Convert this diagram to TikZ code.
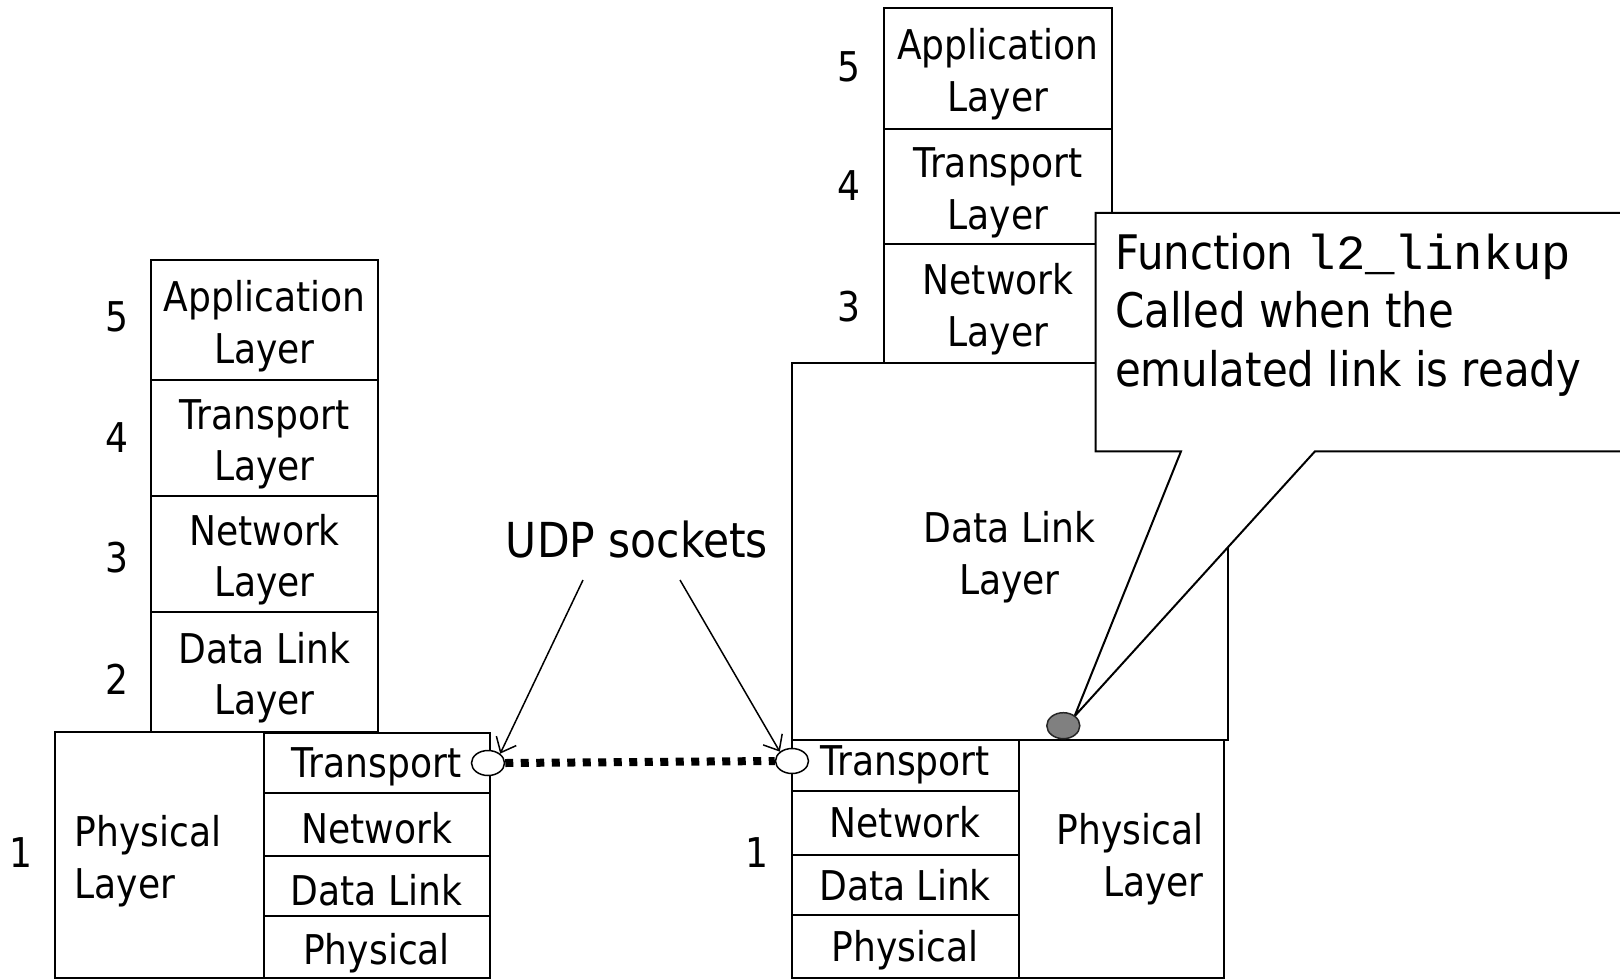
\documentclass[tikz,border=0pt]{standalone}
\usepackage{fontspec}
\setmainfont{DejaVu Sans}[FakeStretch=0.88]
\newfontfamily\codefont{Liberation Mono}
\usetikzlibrary{shapes.geometric,arrows.meta}
\newcommand\stackfont{\fontsize{41}{51.6}\selectfont}
\newcommand\callfont{\fontsize{47.6}{58.5}\selectfont}
\newcommand\tstrut{\rule{0pt}{1.04em}}
\newcommand\sstrut{\rule{0pt}{0.95em}}
\begin{document}
\begin{tikzpicture}[x=1pt,y=-1pt,
  box/.style={draw, line width=2pt, fill=white, inner sep=0pt, align=center, font=\stackfont},
  num/.style={inner sep=0pt, font=\stackfont},
  sock/.style={draw, ellipse, line width=1.5pt, fill=white, minimum width=33pt, minimum height=25pt, inner sep=0pt},
  gdot/.style={draw=black!85, ellipse, line width=1.5pt, fill=gray, minimum width=33pt, minimum height=26pt, inner sep=0pt},
  arr/.style={line width=1.5pt, -{Straight Barb[length=13pt,width=22pt]}},
  udpline/.style={line width=8pt, dash pattern=on 8pt off 7.5pt},
  callout/.style={draw, line width=2pt, fill=white, line join=miter}
]
\useasboundingbox (0,0) rectangle (1620,980);
\clip (0,0) rectangle (1620,980);
\fill[white] (0,0) rectangle (1620,980);

% left stack
\node[box, minimum width=227.4pt, minimum height=119.8pt] (lapp) at (264.5,320.3) {\tstrut Application\\Layer};
\node[box, minimum width=227.4pt, minimum height=115.8pt] (ltra) at (264.5,438.1) {\tstrut Transport\\Layer};
\node[box, minimum width=227.4pt, minimum height=115.6pt] (lnet) at (264.5,553.8) {\tstrut Network\\Layer};
\node[box, minimum width=227.4pt, minimum height=120.9pt] (ldl) at (264.5,672) {\tstrut Data Link\\Layer};
\node[num] (nl5) at (116.8,317) {5};
\node[num] (nl4) at (116.8,438) {4};
\node[num] (nl3) at (116.8,558) {3};
\node[num] (nl2) at (116.8,679) {2};
\node[num] (nl1) at (20.7,853) {1};

% left physical
\node[box, minimum height=245.5pt, text width=169.5pt, inner xsep=19.6pt, align=left] (lphy) at (159.2,855.2) {\tstrut Physical\\Layer};
\node[box, minimum width=226.2pt, minimum height=60pt] (ltr1) at (376.6,762.5) {\sstrut Transport};
\node[box, minimum width=226.2pt, minimum height=63pt] (lnw1) at (376.6,824) {\sstrut Network};
\node[box, minimum width=226.2pt, minimum height=61pt] (ldl1) at (376.6,886) {\sstrut Data Link};
\node[box, minimum width=226.2pt, minimum height=61.6pt] (lph1) at (376.6,947.2) {\tstrut Physical};

% right stack
\node[box, minimum width=227.3pt, minimum height=120.8pt] (rapp) at (998,68.7) {\tstrut Application\\Layer};
\node[box, minimum width=227.3pt, minimum height=114.7pt] (rtra) at (998,186.5) {\tstrut Transport\\Layer};
\node[box, minimum width=227.3pt, minimum height=118.9pt] (rnet) at (998,303.3) {\tstrut Network\\Layer};
\node[num] (nr5) at (849,67) {5};
\node[num] (nr4) at (849,186) {4};
\node[num] (nr3) at (849,307) {3};
\node[num] (nr1) at (757,853) {1};

\node[box, minimum width=436pt, minimum height=377.3pt] (rdl) at (1009.5,551.4) {\tstrut Data Link\\Layer};

\node[box, minimum width=227.2pt, minimum height=50.5pt] (rtr1) at (905.1,765.3) {Transport};
\node[box, minimum width=227.2pt, minimum height=64pt] (rnw1) at (905.1,822.5) {Network};
\node[box, minimum width=227.2pt, minimum height=61pt] (rdl1) at (905.1,885) {Data Link};
\node[box, minimum width=227.2pt, minimum height=62.5pt] (rph1) at (905.1,946.7) {\sstrut Physical};
\node[box, minimum height=238pt, text width=165pt, inner xsep=19.9pt, align=right] (rphy) at (1121.1,859) {Physical\\Layer};

% callout
\coordinate (c1) at (1095.5,212.8);
\coordinate (c2) at (1630,212.8);
\coordinate (c3) at (1630,451.3);
\coordinate (c4) at (1315,451.3);
\coordinate (tip) at (1074.5,716.3);
\coordinate (c5) at (1181,451.3);
\coordinate (c6) at (1095.5,451.3);
\draw[callout] (c1) -- (c2) -- (c3) -- (c4) -- (tip) -- (c5) -- (c6) -- cycle;
\node[anchor=north west, inner sep=0pt, align=left, font=\callfont] (ctext) at (1115,233)
  {Function {\codefont\fontsize{49}{58.5}\selectfont l2\_linkup}\\Called when the\\emulated link is ready};
\node[gdot] (gd) at (1063.3,725.7) {};

% sockets
\node[sock] (sl) at (488,763) {};
\node[sock] (sr) at (792,761) {};
\draw[udpline] (sl.east) -- (sr.west);
\node[font=\fontsize{48.2}{56}\selectfont, inner sep=0pt] (udp) at (637,540) {UDP sockets};
\coordinate (ua) at (583,580);
\coordinate (ub) at (680,580);
\draw[arr] (ua) -- (sl.north east);
\draw[arr] (ub) -- (sr.north west);
\end{tikzpicture}
\end{document}
